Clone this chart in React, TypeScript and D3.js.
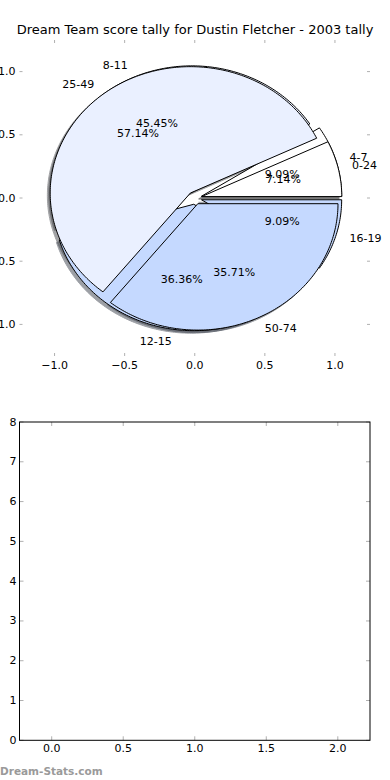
import React from 'react';
import * as d3 from 'd3';

// pie A (drawn first, underneath)
const pieALabels = ['4-7', '8-11', '12-15', '16-19'];
const pieAValues = [1, 5, 4, 1];
const pieAColors = ['#ffffff', '#eaf0ff', '#c5d9ff', '#c5d9ff'];

// pie B (drawn on top)
const pieBLabels = ['0-24', '25-49', '50-74'];
const pieBValues = [1, 8, 5];
const pieBColors = ['#ffffff', '#eaf0ff', '#c5d9ff'];

const title = 'Dream Team score tally for Dustin Fletcher - 2003 tally';
const pieTicks = [-1, -0.5, 0, 0.5, 1];
const lowerXTicks = [0, 0.5, 1, 1.5, 2];
const lowerYTicks = [0, 1, 2, 3, 4, 5, 6, 7, 8];

const W = 390;
const H = 780;
const FONT = 'DejaVu Sans, sans-serif';
const EXPLODE = 0.05;

const left = 19.5;
const right = 370;

const xTop = d3.scaleLinear().domain([-1.25, 1.25]).range([left, right]);
const yTop = d3.scaleLinear().domain([-1.25, 1.25]).range([356, 40]);

const xBot = d3.scaleLinear().domain([-0.225, 2.225]).range([left, right]);
const yBot = d3.scaleLinear().domain([0, 8]).range([740.3, 422]);

const fmt = d3.format('.1f');

function shade(c) {
  const rgb = d3.rgb(c);
  return d3.rgb(rgb.r * 0.3, rgb.g * 0.3, rgb.b * 0.3).toString();
}

function buildWedges(values, labels, colors) {
  const total = d3.sum(values);
  const arcs = d3.pie().sort(null)(values);
  return arcs.map((a, i) => {
    const t1 = a.startAngle;
    const t2 = a.endAngle;
    const m = (t1 + t2) / 2;
    const cx = EXPLODE * Math.cos(m);
    const cy = EXPLODE * Math.sin(m);
    const steps = Math.max(2, Math.ceil(((t2 - t1) * 180) / Math.PI));
    const pts = [[cx, cy]];
    for (let k = 0; k <= steps; k++) {
      const t = t1 + ((t2 - t1) * k) / steps;
      pts.push([cx + Math.cos(t), cy + Math.sin(t)]);
    }
    pts.push([cx, cy]);
    const lx = cx + 1.1 * Math.cos(m);
    const ly = cy + 1.1 * Math.sin(m);
    const px = cx + 0.6 * Math.cos(m);
    const py = cy + 0.6 * Math.sin(m);
    return {
      pts,
      color: colors[i],
      label: labels[i],
      pct: ((values[i] / total) * 100).toFixed(2) + '%',
      lx, ly, px, py,
    };
  });
}

export default function App() {
  const wedgesA = buildWedges(pieAValues, pieALabels, pieAColors);
  const wedgesB = buildWedges(pieBValues, pieBLabels, pieBColors);
  const all = [...wedgesA, ...wedgesB];

  const line = d3.line().x(d => xTop(d[0])).y(d => yTop(d[1]));
  const shadowLine = d3.line().x(d => xTop(d[0] - 0.02)).y(d => yTop(d[1] - 0.02));

  const tickColor = '#b0b0b0';
  const [t0, t1] = yTop.range();
  const [b0, b1] = yBot.range();

  return (
    <svg width={W} height={H} style={{ position: 'absolute', left: 0, top: 0, background: '#fff' }}
      fontFamily={FONT}>
      <rect x={0} y={0} width={W} height={H} fill="#fff" />
      <text x={195} y={34} textAnchor="middle" fontSize={13} fill="#000">{title}</text>

      {/* pie axes ticks (frame hidden) */}
      <g stroke={tickColor} strokeWidth={1}>
        {pieTicks.map(t => (
          <g key={'xt' + t}>
            <line x1={xTop(t)} x2={xTop(t)} y1={t1} y2={t1 + 3} />
            <line x1={xTop(t)} x2={xTop(t)} y1={t0} y2={t0 - 3} />
            <line x1={left} x2={left + 3} y1={yTop(t)} y2={yTop(t)} />
            <line x1={right} x2={right - 3} y1={yTop(t)} y2={yTop(t)} />
          </g>
        ))}
      </g>
      <g fontSize={11} fill="#000">
        {pieTicks.map(t => (
          <text key={'xl' + t} x={xTop(t)} y={t0 + 13} textAnchor="middle">{fmt(t)}</text>
        ))}
        {pieTicks.map(t => (
          <text key={'yl' + t} x={left - 4} y={yTop(t)} textAnchor="end" dominantBaseline="central">{fmt(t)}</text>
        ))}
      </g>

      {/* shadows */}
      {all.map((w, i) => (
        <path key={'s' + i} d={shadowLine(w.pts)} fill={shade(w.color)} stroke={shade(w.color)}
          strokeWidth={1} opacity={0.5} />
      ))}
      {/* wedges */}
      {all.map((w, i) => (
        <path key={'w' + i} d={line(w.pts)} fill={w.color} stroke="#000" strokeWidth={1}
          strokeLinejoin="miter" />
      ))}
      {/* texts */}
      <g fontSize={11} fill="#000">
        {[wedgesA, wedgesB].map((ws, j) => ws.map((w, i) => (
          <g key={'t' + j + i}>
            <text x={xTop(w.lx)} y={yTop(w.ly)} textAnchor={w.lx > 0 ? 'start' : 'end'}
              dominantBaseline="central">{w.label}</text>
            <text x={xTop(w.px)} y={yTop(w.py)} textAnchor="middle"
              dominantBaseline="central">{w.pct}</text>
          </g>
        )))}
      </g>

      {/* lower empty axes */}
      <g stroke={tickColor} strokeWidth={1}>
        {lowerXTicks.map(t => (
          <g key={'bx' + t}>
            <line x1={xBot(t)} x2={xBot(t)} y1={b1} y2={b1 + 4} />
            <line x1={xBot(t)} x2={xBot(t)} y1={b0} y2={b0 - 4} />
          </g>
        ))}
        {lowerYTicks.map(t => (
          <g key={'by' + t}>
            <line x1={left} x2={left + 4} y1={yBot(t)} y2={yBot(t)} />
            <line x1={right} x2={right - 4} y1={yBot(t)} y2={yBot(t)} />
          </g>
        ))}
      </g>
      <rect x={left} y={b1} width={right - left} height={b0 - b1} fill="none" stroke="#000" strokeWidth={1} />
      <g fontSize={11} fill="#000">
        {lowerXTicks.map(t => (
          <text key={'bxl' + t} x={xBot(t)} y={b0 + 12} textAnchor="middle">{fmt(t)}</text>
        ))}
        {lowerYTicks.map(t => (
          <text key={'byl' + t} x={left - 3} y={yBot(t)} textAnchor="end" dominantBaseline="central">{t}</text>
        ))}
      </g>

      <text x={0} y={775} fontSize={10.5} fontWeight="bold" fill="#9a9a9a">Dream-Stats.com</text>
    </svg>
  );
}
